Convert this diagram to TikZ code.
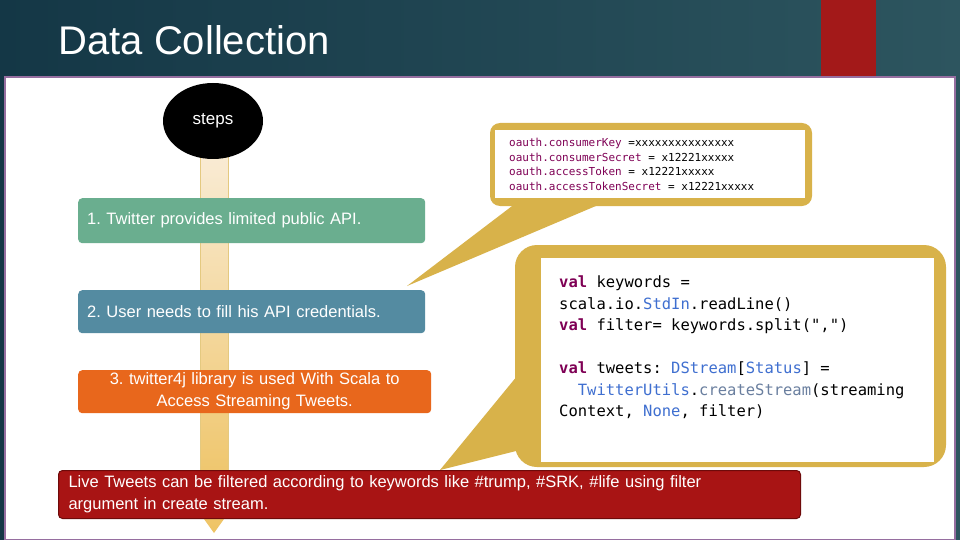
\documentclass[tikz,border=0pt]{standalone}
\usepackage{fontspec}
\setmainfont{Liberation Sans}
\newfontfamily\codefont{DejaVu Sans Mono}
\usetikzlibrary{shapes.geometric}
\frenchspacing
\definecolor{gold}{HTML}{D8B24A}
\definecolor{kw}{HTML}{7F0055}
\definecolor{bl}{HTML}{3F6FD0}
\definecolor{gr}{HTML}{6A7F9F}
\tikzset{stepbox/.style={rounded corners=4pt,text=white,font=\fontsize{16.5}{22}\selectfont,inner ysep=0pt,inner xsep=9pt},
 code/.style={font=\codefont\fontsize{15.5}{21.5}\selectfont,align=left,anchor=north west,inner sep=0pt}}
\begin{document}
\begin{tikzpicture}[x=1pt,y=-1pt]
\useasboundingbox (0,0) rectangle (960,540);
\shade[left color={rgb,255:red,20;green,55;blue,70},right color={rgb,255:red,45;green,85;blue,95}] (0,0) rectangle (960,540);
\fill[red!60!black!90] (821,0) rectangle (876,76);
\fill[white,draw={rgb,255:red,150;green,110;blue,160},line width=1.5pt] (5,77) rectangle (955,540);
\node[anchor=west,text=white,font=\fontsize{40}{44}\selectfont] (title) at (55,40) {Data Collection};
% arrow column
\shade[top color={rgb,255:red,250;green,238;blue,220},bottom color={rgb,255:red,238;green,195;blue,100}] (200,130) rectangle (228,505);
\shade[top color={rgb,255:red,240;green,200;blue,110},bottom color={rgb,255:red,238;green,195;blue,100}] (194,505) -- (234,505) -- (214,533) -- cycle;
\draw[gold!70,line width=0.6pt] (200,130) -- (200,505) (228,130) -- (228,505);
\node[ellipse,fill=black,minimum width=100pt,minimum height=76pt,text=white,font=\fontsize{17}{20}\selectfont] (steps) at (213,121) {steps};
\node[stepbox,fill={rgb,255:red,106;green,174;blue,143},minimum width=347pt,minimum height=45pt,anchor=north west,text width=329pt,align=left] (s1) at (78,198) {1. Twitter provides limited public API.};
\node[stepbox,fill={rgb,255:red,84;green,139;blue,161},minimum width=347pt,minimum height=43pt,anchor=north west,text width=329pt,align=left] (s2) at (78,290) {2. User needs to fill his API credentials.};
\node[stepbox,fill={rgb,255:red,232;green,103;blue,28},minimum width=353pt,minimum height=43pt,anchor=north west,text width=335pt,align=center] (s3) at (78,370) {3. twitter4j library is used With Scala to\\Access Streaming Tweets.};
% callout 1
\fill[gold] (520,200) -- (407,286) -- (610,200) -- cycle;
\fill[gold,rounded corners=10pt] (490,123) rectangle (812,206);
\fill[white] (495,130) rectangle (805,198);
\node[code,font=\codefont\fontsize{11}{14.5}\selectfont] (c1) at (509,138) {\textcolor{kw}{oauth.consumerKey} =xxxxxxxxxxxxxxx\\\textcolor{kw}{oauth.consumerSecret} = x12221xxxxx\\\textcolor{kw}{oauth.accessToken} = x12221xxxxx\\\textcolor{kw}{oauth.accessTokenSecret} = x12221xxxxx};
% callout 2
\fill[gold] (522,370) -- (440,470) -- (560,440) -- cycle;
\fill[gold,rounded corners=22pt] (515,245) rectangle (946,467);
\fill[white] (541,258) rectangle (934,462);
\node[code] (c2) at (559,276) {\textcolor{kw}{\textbf{val}} keywords =\\scala.io.\textcolor{bl}{StdIn}.readLine()\\\textcolor{kw}{\textbf{val}} filter= keywords.split(",")\\[21.5pt]\textcolor{kw}{\textbf{val}} tweets: \textcolor{bl}{DStream}[\textcolor{bl}{Status}] =\\\ \ \textcolor{bl}{TwitterUtils}.\textcolor{gr}{createStream}(streaming\\Context, \textcolor{bl}{None}, filter)};
\node[stepbox,font=\fontsize{16.5}{22}\selectfont,inner xsep=10pt,fill={rgb,255:red,168;green,20;blue,20},draw={rgb,255:red,110;green,10;blue,10},line width=1pt,minimum width=742pt,minimum height=48pt,anchor=north west,text width=722pt,align=left] (live) at (58,470) {Live Tweets can be filtered according to keywords like \#trump, \#SRK, \#life using filter\\argument in create stream.};
\end{tikzpicture}
\end{document}
